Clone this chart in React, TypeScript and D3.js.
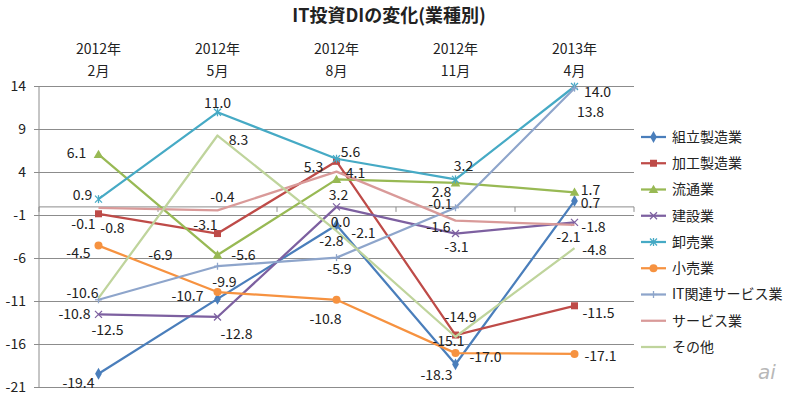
import * as d3 from "d3";

const catYears = ["2012年", "2012年", "2012年", "2012年", "2013年"];
const catMonths = ["2月", "5月", "8月", "11月", "4月"];
const yTicks = [14, 9, 4, -1, -6, -11, -16, -21];

const seriesNames = [
  "組立製造業", "加工製造業", "流通業", "建設業", "卸売業",
  "小売業", "IT関連サービス業", "サービス業", "その他",
];

const kumitate = [-19.4, -10.7, -2.1, -18.3, 0.7];
const kako = [-0.8, -3.1, 5.3, -14.9, -11.5];
const ryutsu = [6.1, -5.6, 3.2, 2.8, 1.7];
const kensetsu = [-12.5, -12.8, 0.0, -3.1, -1.8];
const oroshi = [0.9, 11.0, 5.6, 3.2, 14.0];
const kouri = [-4.5, -9.9, -10.8, -17.0, -17.1];
const itService = [-10.8, -6.9, -5.9, -0.1, 13.8];
const service = [-0.1, -0.4, 4.1, -1.6, -2.1];
const sonota = [-10.6, 8.3, -2.8, -15.1, -4.8];

const seriesValues = [kumitate, kako, ryutsu, kensetsu, oroshi, kouri, itService, service, sonota];

// styling per series
const colors = ["#4A7EBB", "#BE4B48", "#98B954", "#7D60A0", "#46AAC5", "#F69240", "#8EA5CB", "#D99A99", "#BFD49C"];
const markers = ["diamond", "square", "triangle", "x", "star", "circle", "plus", "none", "none"];

// label centre offsets from the point (px), tuned by hand
const labelOffsets = [
  [[-20, 9], [-30, -3], [27, 8], [-19, 11], [16, 2]],
  [[14, 14], [-12, -8], [-23, 6], [5, -18], [24, 7]],
  [[-22, -1], [26, 0], [2, 16], [-14, 9], [16, -2]],
  [[9, 16], [19, 17], [4, 15], [1, 14], [19, 5]],
  [[-16, -4], [0, -9], [14, -7], [8, -13], [23, 6]],
  [[-20, 7], [7, -10], [-11, 19], [30, 4], [26, 2]],
  [[-24, 14], [-57, -11], [3, 11], [-15, -4], [16, 24]],
  [[-15, 16], [5, -13], [19, 1], [-17, 6], [-6, 12]],
  [[-16, -5], [21, 5], [-5, 10], [-7, 4], [20, 2]],
];

const W = 800;
const H = 395;
const M = { top: 86.5, right: 166, bottom: 7.5, left: 39 };
const FONT = "'Noto Sans CJK JP', 'Noto Sans', sans-serif";
const GRID = "#8c8c8c";

function Marker({ type, x, y, color }: { type: string; x: number; y: number; color: string }) {
  if (type === "none") return null;
  if (type === "diamond") {
    return <path d={d3.symbol(d3.symbolDiamond, 40)()!} transform={`translate(${x},${y})`} fill={color} />;
  }
  if (type === "square") {
    return <rect x={x - 3.5} y={y - 3.5} width={7} height={7} fill={color} />;
  }
  if (type === "triangle") {
    return <path d={d3.symbol(d3.symbolTriangle, 40)()!} transform={`translate(${x},${y + 0.8})`} fill={color} />;
  }
  if (type === "circle") {
    return <circle cx={x} cy={y} r={4} fill={color} />;
  }
  const s = 3.5;
  const segs: [number, number, number, number][] = [];
  if (type === "x" || type === "star") {
    segs.push([-s, -s, s, s], [-s, s, s, -s]);
  }
  if (type === "star") segs.push([0, -s - 0.5, 0, s + 0.5]);
  if (type === "plus") segs.push([0, -s, 0, s], [-s, 0, s, 0]);
  return (
    <g stroke={color} strokeWidth={1.3}>
      {segs.map((sg, i) => (
        <line key={i} x1={x + sg[0]} y1={y + sg[1]} x2={x + sg[2]} y2={y + sg[3]} />
      ))}
    </g>
  );
}

export default function App() {
  const x = d3.scaleBand<number>().domain(d3.range(catMonths.length)).range([M.left, W - M.right]);
  const y = d3.scaleLinear().domain([-21, 14]).range([H - M.bottom, M.top]);
  const cx = (i: number) => x(i)! + x.bandwidth() / 2;
  const line = d3.line<number>().x((_, i) => cx(i)).y((v) => y(v));

  const legendY0 = 137;
  const legendStep = 26.25;

  return (
    <svg
      width={W}
      height={H}
      style={{ position: "absolute", left: 0, top: 0, background: "#fff" }}
      fontFamily={FONT}
    >
      <text x={389} y={16} textAnchor="middle" dy="0.35em" fontSize={18} fontWeight="bold" fill="#222">
        IT投資DIの変化(業種別)
      </text>

      {/* gridlines + y labels */}
      {yTicks.map((t) => (
        <g key={t}>
          <line x1={M.left} x2={W - M.right} y1={y(t)} y2={y(t)} stroke={GRID} strokeWidth={1} />
          <line x1={M.left - 5} x2={M.left} y1={y(t)} y2={y(t)} stroke={GRID} strokeWidth={1} />
          <text x={26} y={y(t)} dy="0.35em" textAnchor="end" fontSize={14} fill="#222">
            {t}
          </text>
        </g>
      ))}
      <line x1={M.left} x2={M.left} y1={y(14)} y2={y(-21)} stroke={GRID} strokeWidth={1} />

      {/* category axis at zero */}
      <line x1={M.left} x2={W - M.right} y1={y(0)} y2={y(0)} stroke={GRID} strokeWidth={1} />
      {d3.range(catMonths.length + 1).map((k) => {
        const xx = M.left + k * x.step();
        return <line key={k} x1={xx} x2={xx} y1={y(0)} y2={y(0) + 5} stroke={GRID} strokeWidth={1} />;
      })}
      {catMonths.map((m, i) => (
        <g key={i} fontSize={14} fill="#222" textAnchor="middle">
          <text x={cx(i)} y={49} dy="0.35em">{catYears[i]}</text>
          <text x={cx(i)} y={71} dy="0.35em">{m}</text>
        </g>
      ))}

      {/* series */}
      {seriesValues.map((vals, s) => (
        <g key={s}>
          <path d={line(vals)!} fill="none" stroke={colors[s]} strokeWidth={2.25} strokeLinejoin="round" />
          {vals.map((v, i) => (
            <Marker key={i} type={markers[s]} x={cx(i)} y={y(v)} color={colors[s]} />
          ))}
        </g>
      ))}

      {/* data labels */}
      {seriesValues.map((vals, s) => (
        <g key={s} fontSize={14} fill="#222" textAnchor="middle">
          {vals.map((v, i) => (
            <text key={i} x={cx(i) + labelOffsets[s][i][0]} y={y(v) + labelOffsets[s][i][1]} dy="0.35em">
              {v.toFixed(1)}
            </text>
          ))}
        </g>
      ))}

      {/* legend */}
      {seriesNames.map((name, s) => {
        const ly = legendY0 + s * legendStep;
        return (
          <g key={s}>
            <line x1={641} x2={666} y1={ly} y2={ly} stroke={colors[s]} strokeWidth={2.25} />
            <Marker type={markers[s]} x={653.5} y={ly} color={colors[s]} />
            <text x={672} y={ly} dy="0.35em" fontSize={14} fill="#222">
              {name}
            </text>
          </g>
        );
      })}

      <text x={758} y={379} fontSize={20} fontStyle="italic" fill="#b8b8b8" fontFamily="'DejaVu Sans', sans-serif">
        ai
      </text>
    </svg>
  );
}
